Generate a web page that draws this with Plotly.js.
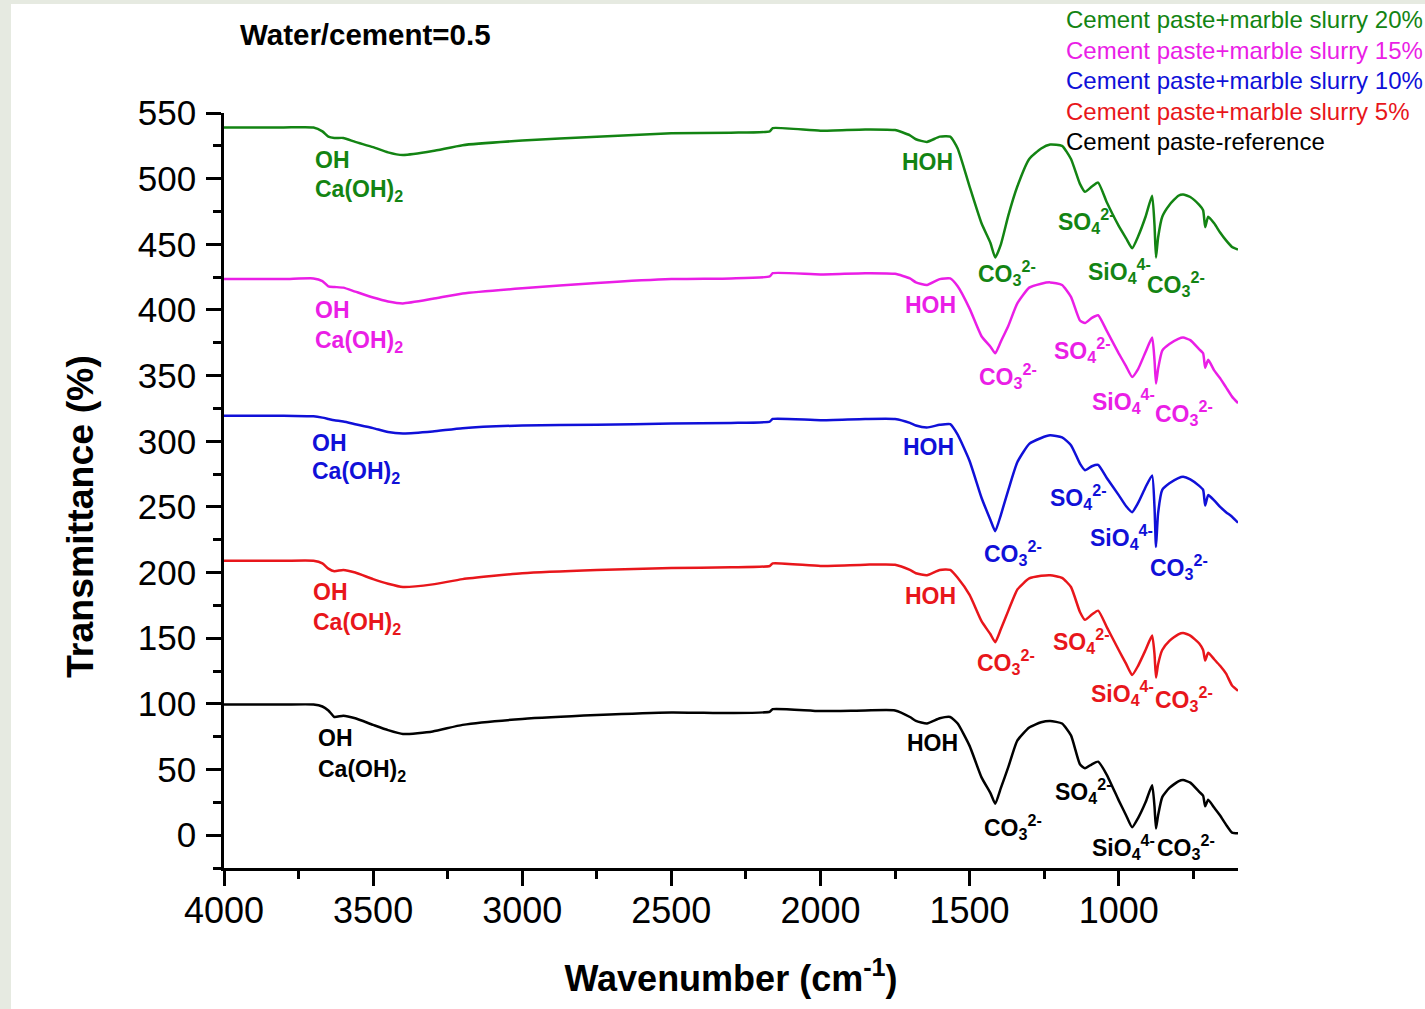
<!DOCTYPE html>
<html>
<head>
<meta charset="utf-8">
<script src="https://cdn.plot.ly/plotly-3.0.1.min.js"></script>
<style>
  html, body { margin: 0; padding: 0; background: #e6eae1; width: 1425px; height: 1009px; overflow: hidden; }
  #chart { position: absolute; left: 11px; top: 4px; width: 1414px; height: 1005px; background: #ffffff; }
</style>
</head>
<body>
<div id="chart"></div>
<script>
// ---------- DATA ----------
const wavenumber = [
  4000, 3800, 3700, 3670, 3650, 3630, 3600, 3560, 3500, 3450,
  3400, 3300, 3200, 3000, 2750, 2500, 2300, 2170, 2160, 2000,
  1850, 1750, 1700, 1680, 1643, 1600, 1565, 1540, 1500, 1460,
  1430, 1414, 1395, 1370, 1340, 1300, 1260, 1230, 1190, 1160,
  1130, 1113, 1090, 1069, 1040, 1000, 975, 955, 935, 910,
  888, 880, 875, 868, 854, 830, 800, 784, 760, 730,
  717, 710, 700, 680, 660, 640, 620, 600
];

const cementReference = [
  99.5, 99.5, 99.5, 98, 95, 90, 91, 89, 84, 80,
  77, 79, 84, 88.5, 91.5, 93.5, 93, 94, 96, 94.5,
  95, 95, 90, 87, 85, 89, 90, 85, 68, 44,
  32, 24, 36, 52, 72, 82, 86, 87, 85, 76,
  54, 51, 54, 56, 46, 26.5, 15, 6, 13, 25,
  38, 22, 5, 15, 29, 36, 41, 42, 40, 33,
  30, 22, 27, 21, 15, 8, 2, 1.5
];

const marbleSlurry5 = [
  209, 209, 209, 207, 203, 201, 202, 200, 195, 191.5,
  189, 191, 195, 199.5, 202, 203.5, 204, 205, 207, 205,
  206, 206, 202, 199.5, 198, 202, 202, 196, 183, 163,
  153, 147, 157, 171, 187, 195.5, 197.5, 198, 196, 189,
  170, 164, 168, 171, 158.5, 141, 130.5, 122, 129, 141,
  152, 138, 120, 130, 141, 148, 153, 154, 152, 146,
  141, 133, 139, 134, 129, 123, 114, 110
];

const marbleSlurry10 = [
  319.5, 319.5, 319, 318, 317, 316, 315, 313, 310, 307,
  306, 307.5, 310, 312, 312.5, 313.5, 314, 315, 317, 316,
  317, 317, 314, 312, 310.5, 312.5, 313, 305, 285, 257,
  240, 231.5, 244, 263, 284, 298, 302.5, 304.5, 303, 297,
  283, 278, 281, 282, 272, 259, 250.5, 246, 253, 265,
  274, 250, 219.5, 245, 263, 268, 272, 273, 271, 266,
  263, 251, 259, 255, 250, 246, 242.5, 238
];

const marbleSlurry15 = [
  423.5, 423.5, 424, 422, 418, 417.5, 417, 414, 409.5, 406.5,
  405, 408.5, 412.5, 416.5, 420.5, 423.5, 424, 425.5, 428, 427,
  428, 427.5, 424, 421, 419, 423.5, 424, 418, 401, 380,
  372, 367, 376, 388, 405, 417, 420, 421, 419, 410,
  392, 390, 394, 396, 384, 367, 357, 349, 355, 368,
  379, 362, 344, 355, 369, 374, 378, 379, 377, 370,
  367, 356, 362, 354, 348, 341, 334, 329
];

const marbleSlurry20 = [
  539, 539, 539, 536, 532, 531, 531, 528, 524, 520,
  518, 521, 525.5, 529, 532, 534.5, 535, 536, 538.5, 536.5,
  537.5, 537, 533, 530, 528, 532, 532, 523, 494, 466,
  451, 440, 450, 472, 494, 515, 523, 526, 525, 515,
  496, 490, 494, 497, 482, 464, 454.5, 447, 456, 471,
  487, 465, 440, 455, 471, 480, 487, 488, 486, 480,
  476, 463, 471, 466, 459, 453, 448, 446
];

const seriesNames = [
  'Cement paste-reference',
  'Cement paste+marble slurry 5%',
  'Cement paste+marble slurry 10%',
  'Cement paste+marble slurry 15%',
  'Cement paste+marble slurry 20%'
];

const bandLabels = [
  'OH',
  'Ca(OH)<sub>2</sub>',
  'HOH',
  'CO<sub>3</sub><sup>2-</sup>',
  'SO<sub>4</sub><sup>2-</sup>',
  'SiO<sub>4</sub><sup>4-</sup>',
  'CO<sub>3</sub><sup>2-</sup>'
];

const xTickValues = [4000, 3500, 3000, 2500, 2000, 1500, 1000];
const yTickValues = [0, 50, 100, 150, 200, 250, 300, 350, 400, 450, 500, 550];

// ---------- STYLE / LAYOUT ----------
const seriesValues = [cementReference, marbleSlurry5, marbleSlurry10, marbleSlurry15, marbleSlurry20];
const colors = ['#000000', '#e8161b', '#1010d8', '#ea1ee6', '#138413'];
const FONT = 'Liberation Sans, Arial, sans-serif';

// label anchor points (x wavenumber, y value) per series, one per band label
const labelAnchors = [
  [[3691, 74], [3691, 49.5], [1716, 70], [1458, 6], [1220, 33.5], [1096, -9], [878, -9]],
  [[3708, 185], [3708, 161.5], [1723, 182], [1482, 132], [1227, 148], [1099, 108], [885, 104]],
  [[3712, 299], [3712, 276], [1730, 295.6], [1458, 215], [1237, 257.5], [1103, 227], [901, 204]],
  [[3702, 400], [3702, 376], [1723, 404], [1475, 350], [1223, 369.5], [1096, 330.6], [885, 321.5]],
  [[3702, 514], [3702, 491], [1733, 513], [1478, 428], [1210, 468], [1109, 430], [911, 420]]
];

const traces = seriesValues.map((vals, i) => ({
  type: 'scatter',
  mode: 'lines',
  name: seriesNames[i],
  x: wavenumber,
  y: vals,
  line: { color: colors[i], width: 2.5, shape: 'spline', smoothing: 0.5 },
  showlegend: false,
  hoverinfo: 'x+y+name'
}));

const annotations = [];
labelAnchors.forEach((anchors, s) => {
  anchors.forEach((pt, k) => {
    annotations.push({
      x: pt[0], y: pt[1], xref: 'x', yref: 'y',
      text: bandLabels[k],
      showarrow: false,
      xanchor: 'left', yanchor: 'middle',
      font: { family: FONT, size: 23, color: colors[s], weight: 'bold' }
    });
  });
});

// legend-like text block (top right)
const legendOrder = [4, 3, 2, 1, 0];
const legendY = [1.1245, 1.0834, 1.0424, 1.0026, 0.9616];
legendOrder.forEach((s, r) => {
  annotations.push({
    x: 0.8284, y: legendY[r], xref: 'paper', yref: 'paper',
    text: seriesNames[s],
    showarrow: false, xanchor: 'left', yanchor: 'middle',
    font: { family: FONT, size: 24, color: colors[s] }
  });
});

const layout = {
  width: 1414,
  height: 1005,
  paper_bgcolor: '#ffffff',
  plot_bgcolor: '#ffffff',
  margin: { l: 213, r: 187, t: 109, b: 141 },
  showlegend: false,
  title: {
    text: '<b>Water/cement=0.5</b>',
    font: { family: FONT, size: 29.5, color: '#000' },
    x: 229 / 1414, xanchor: 'left', xref: 'container',
    y: 1 - 31 / 1005, yanchor: 'middle', yref: 'container'
  },
  xaxis: {
    range: [4000, 600],
    showgrid: false, zeroline: false,
    showline: true, linecolor: '#000', linewidth: 2.5,
    ticks: 'outside', ticklen: 15, tickwidth: 2.5, tickcolor: '#000',
    tickvals: xTickValues, ticktext: xTickValues.map(String),
    tickfont: { family: FONT, size: 36, color: '#000' },
    ticklabelstandoff: -6,
    minor: { ticks: 'outside', ticklen: 8, tickwidth: 2.5, tickcolor: '#000', dtick: 250, tick0: 0, showgrid: false },
    title: {
      text: '<b>Wavenumber (cm<sup>-1</sup>)</b>',
      font: { family: FONT, size: 36, color: '#000' },
      standoff: 36
    }
  },
  yaxis: {
    range: [-25, 550],
    showgrid: false, zeroline: false,
    showline: true, linecolor: '#000', linewidth: 2.5,
    ticks: 'outside', ticklen: 15, tickwidth: 2.5, tickcolor: '#000',
    tickvals: yTickValues, ticktext: yTickValues.map(String),
    tickfont: { family: FONT, size: 35, color: '#000' },
    ticklabelstandoff: 3,
    minor: { ticks: 'outside', ticklen: 8, tickwidth: 2.5, tickcolor: '#000', dtick: 25, tick0: 0, showgrid: false },
    title: {
      text: '<b>Transmittance (%)\u00A0\u00A0\u00A0\u00A0\u00A0</b>',
      font: { family: FONT, size: 37.5, color: '#000' },
      standoff: 33
    }
  },
  annotations: annotations
};

Plotly.newPlot('chart', traces, layout, { displayModeBar: false, responsive: false });
</script>
</body>
</html>
